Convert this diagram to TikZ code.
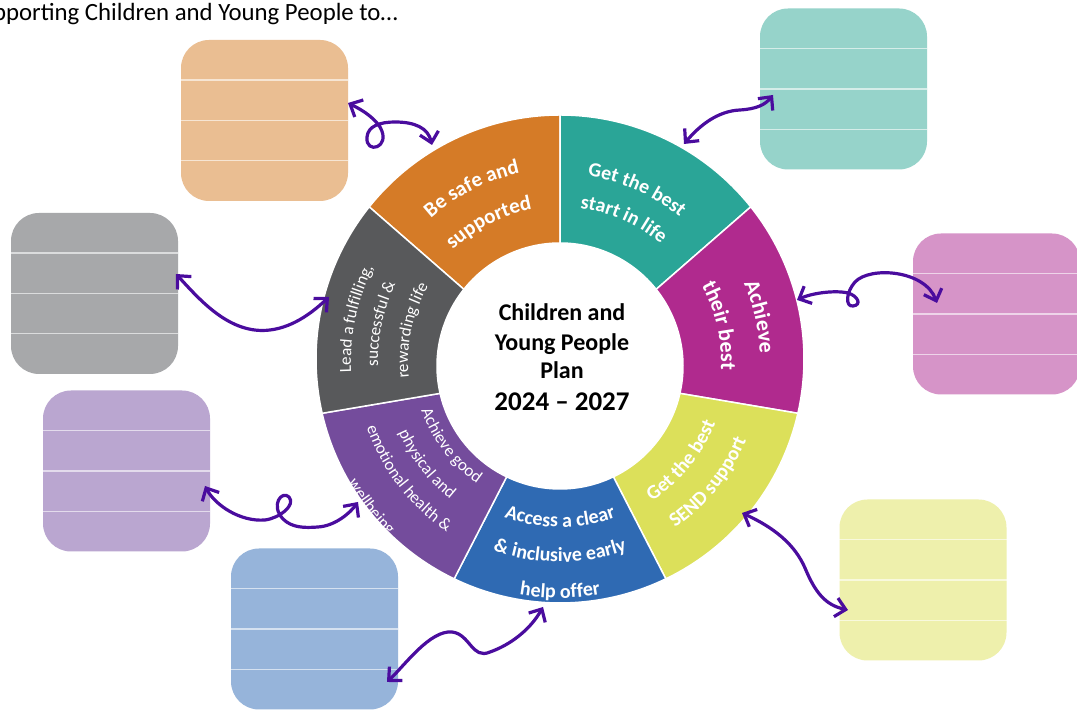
\documentclass[tikz,border=0pt]{standalone}
\usepackage{fontspec}
\setmainfont{Carlito}
\usetikzlibrary{decorations.text,arrows.meta,calc}
\definecolor{segO}{HTML}{D57B27}
\definecolor{segT}{HTML}{2AA597}
\definecolor{segM}{HTML}{B02A8E}
\definecolor{segY}{HTML}{DCE05A}
\definecolor{segB}{HTML}{2F6AB3}
\definecolor{segP}{HTML}{744C9C}
\definecolor{segG}{HTML}{58595B}
\definecolor{boxO}{HTML}{EABE92}
\definecolor{boxT}{HTML}{96D3CA}
\definecolor{boxM}{HTML}{D694C8}
\definecolor{boxY}{HTML}{EEF0AC}
\definecolor{boxB}{HTML}{96B4DA}
\definecolor{boxP}{HTML}{BAA6D0}
\definecolor{boxG}{HTML}{A7A8AA}
\definecolor{arrowc}{HTML}{4A0C9E}
\newcommand\ringseg[3]{%
  \filldraw[fill=#1, draw=white, line width=1.5pt]
    ([shift={(#2:244)}]O) arc[start angle=#2, end angle=#3, radius=244]
    -- ([shift={(#3:123)}]I) arc[start angle=#3, end angle=#2, radius=123] -- cycle;}
\newcommand\cwtext[3]{% radius, mid angle, text
  \path[decorate, decoration={text along path, text align=center, text color=white, text={#3}}]
    ([shift={(#2+40:#1)}]T) arc[start angle=#2+40, end angle=#2-40, radius=#1];}
\newcommand\ccwtext[3]{% radius, mid angle, text
  \path[decorate, decoration={text along path, text align=center, text color=white, text={#3}}]
    ([shift={(#2-40:#1)}]T) arc[start angle=#2-40, end angle=#2+40, radius=#1];}
\newcommand\sgBig{\fontsize{22}{22}\selectfont\bfseries}
\newcommand\sgBa{\fontsize{21}{21}\selectfont\bfseries}
\newcommand\sgBb{\fontsize{20}{20}\selectfont\bfseries}
\newcommand\sgRs{\fontsize{17}{17}\selectfont}
\begin{document}
\begin{tikzpicture}[x=1pt, y=1pt,
  box/.style={rectangle, rounded corners=28pt, minimum width=167pt, minimum height=161pt, inner sep=0pt, draw=none},
  boxline/.style={draw=white, draw opacity=0.6, line width=1.3pt},
  conn/.style={draw=arrowc, line width=3.2pt, line cap=round, line join=round,
    {Straight Barb[length=10pt,width=19pt]}-{Straight Barb[length=10pt,width=19pt]}},
  ctext/.style={anchor=base, inner sep=0pt, font=\fontsize{24}{24}\selectfont\bfseries}]
\useasboundingbox (0,0) rectangle (1077,711);
\clip (0,0) rectangle (1077,711);
\fill[white] (0,0) rectangle (1077,711);

% title
\node[anchor=base east, inner sep=0pt, font=\fontsize{24.8}{25}\selectfont] (title) at (398,690) {Supporting Children and Young People to…};

% ring centres
\coordinate (O) at (560,352);
\coordinate (I) at (560,345);
\coordinate (T) at (560,349);

% ring segments
\ringseg{segO}{141.43}{90}
\ringseg{segT}{90}{38.57}
\ringseg{segM}{38.57}{-12.86}
\ringseg{segY}{-12.86}{-64.29}
\ringseg{segB}{-64.29}{-115.71}
\ringseg{segP}{-115.71}{-167.14}
\ringseg{segG}{-167.14}{-218.57}

% segment labels
\cwtext{193}{117}{|\sgBa|Be safe and}
\cwtext{155}{117}{|\sgBa|supported}
\cwtext{188}{66}{|\sgBb|Get the best}
\cwtext{155}{66}{|\sgBb|start in life}
\cwtext{200}{12.8}{|\sgBig|Achieve}
\cwtext{161}{12.8}{|\sgBig|their best}
\ccwtext{167}{-39}{|\sgBb|Get the best}
\ccwtext{202}{-39}{|\sgBb|SEND support}
\ccwtext{165}{-90}{|\sgBb|Access a clear}
\ccwtext{200}{-90}{|\sgBb|{\&} inclusive early}
\ccwtext{236}{-90}{|\sgBb|help offer}
\ccwtext{147}{-142.5}{|\sgRs|Achieve good}
\ccwtext{176}{-142.5}{|\sgRs|physical and}
\ccwtext{204}{-142.5}{|\sgRs|emotional health {\&}}
\ccwtext{244}{-142.5}{|\sgRs|wellbeing}
\cwtext{209}{168}{|\sgRs|Lead a fulfilling,}
\cwtext{182}{168}{|\sgRs|successful {\&}}
\cwtext{152}{168}{|\sgRs|rewarding life}

% centre text
\node[ctext] (c1) at (562,390) {Children and};
\node[ctext] (c2) at (562,360) {Young People};
\node[ctext] (c3) at (562,332) {Plan};
\node[ctext, font=\fontsize{27}{27}\selectfont\bfseries] (c4) at (562,300) {2024 – 2027};

% boxes
\node[box, fill=boxO] (ob) at (264.5,590.5) {};
\node[box, fill=boxT] (tb) at (843.5,622) {};
\node[box, fill=boxG] (gb) at (94.5,417.5) {};
\node[box, fill=boxM] (mb) at (996.5,397) {};
\node[box, fill=boxP] (pb) at (126.5,240) {};
\node[box, fill=boxY] (yb) at (923,131) {};
\node[box, fill=boxB] (bb) at (314.5,82) {};
\foreach \b in {ob,tb,gb,mb,pb,yb,bb}
  \foreach \f in {0.25,0.5,0.75}
    \draw[boxline] ($(\b.north west)!\f!(\b.south west)$) -- ($(\b.north east)!\f!(\b.south east)$);

% connector end points
\coordinate (oba) at (348,608);
\coordinate (osa) at (432,566);
\coordinate (tsa) at (684,567);
\coordinate (tba) at (773,616);
\coordinate (gba) at (176,437);
\coordinate (gsa) at (329,414);
\coordinate (msa) at (797,411);
\coordinate (mba) at (937,408);
\coordinate (pba) at (205,225);
\coordinate (psa) at (358,209);
\coordinate (bba) at (387,29);
\coordinate (bsa) at (543,104);
\coordinate (ysa) at (742,198);
\coordinate (yba) at (848,101);

% connectors
\draw[conn] (oba) .. controls (358,603) and (372,596) .. (380,584)
  .. controls (392,563) and (365,556) .. (367,574)
  .. controls (368,585) and (380,589) .. (395,589)
  .. controls (415,589) and (428,583) .. (osa);
\draw[conn] (tsa) .. controls (700,586) and (718,600) .. (740,601)
  .. controls (756,602) and (765,606) .. (tba);
\draw[conn] (gba) .. controls (200,411) and (230,376) .. (270,381)
  .. controls (295,384) and (315,401) .. (gsa);
\draw[conn] (msa) .. controls (812,418) and (835,421) .. (848,418)
  .. controls (858,415) and (862,406) .. (853,405)
  .. controls (845,404) and (846,419) .. (855,429)
  .. controls (870,445) and (925,441) .. (mba);
\draw[conn] (pba) .. controls (215,206) and (240,189) .. (265,191)
  .. controls (280,193) and (296,206) .. (289,214)
  .. controls (282,221) and (270,206) .. (283,192)
  .. controls (292,183) and (305,183) .. (318,184)
  .. controls (335,185) and (350,198) .. (psa);
\draw[conn] (bba) .. controls (405,46) and (430,81) .. (452,79)
  .. controls (470,77) and (472,51) .. (490,59)
  .. controls (510,66) and (530,81) .. (bsa);
\draw[conn] (ysa) .. controls (775,183) and (795,166) .. (805,143)
  .. controls (815,119) and (825,106) .. (yba);
\end{tikzpicture}
\end{document}
